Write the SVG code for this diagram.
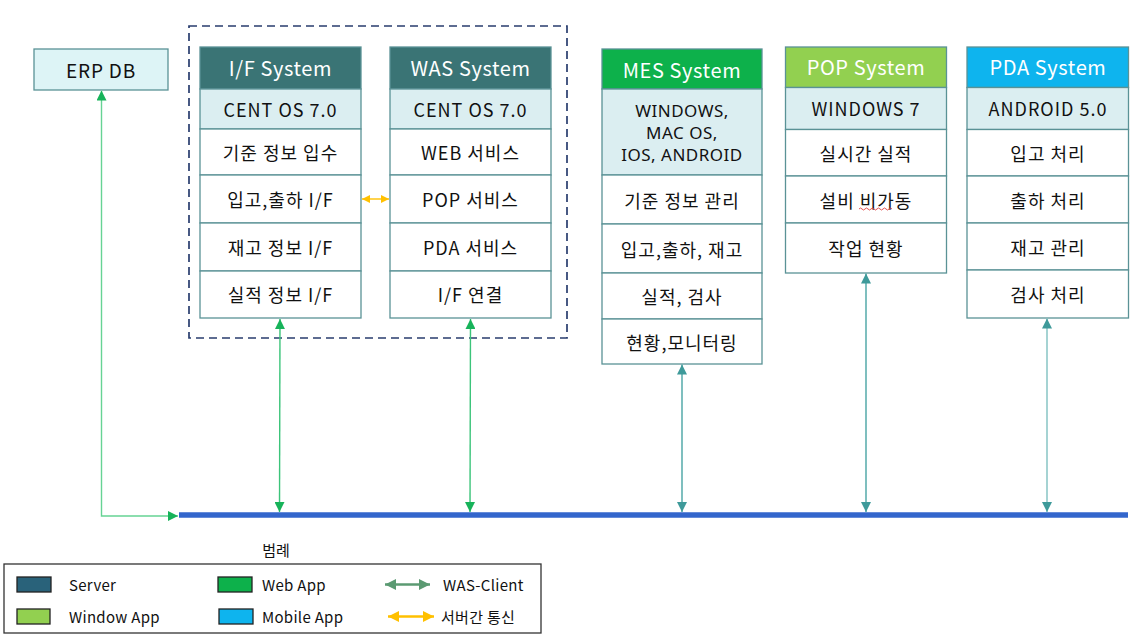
<svg xmlns="http://www.w3.org/2000/svg" width="1146" height="638" viewBox="0 0 1146 638">
<style>
text{font-family:"Noto Sans CJK KR","Noto Sans",sans-serif;text-anchor:middle;dominant-baseline:central;fill:#111}
.hd{font-size:20px;fill:#fff;letter-spacing:0.6px}
.r{font-size:18px;letter-spacing:1px}
.m{font-family:"Noto Sans",sans-serif;font-size:17px;letter-spacing:0.5px;dominant-baseline:auto}
.os{fill:#DBEEF1;stroke:#5A9296;stroke-width:1.3}
.cell{fill:#fff;stroke:#5A9296;stroke-width:1.3}
.lg{font-size:15px;text-anchor:start;letter-spacing:0.3px}
.sw{stroke:#222;stroke-width:1.3}
</style>
<defs>
<marker id="ag" viewBox="0 0 10 10" refX="10" refY="5" markerWidth="10" markerHeight="10" markerUnits="userSpaceOnUse" orient="auto-start-reverse"><path d="M0,0 L10,5 L0,10 z" fill="#17B35A"/></marker>
<marker id="at" viewBox="0 0 10 10" refX="10" refY="5" markerWidth="10" markerHeight="10" markerUnits="userSpaceOnUse" orient="auto-start-reverse"><path d="M0,0 L10,5 L0,10 z" fill="#3E9A9A"/></marker>
<marker id="ay" viewBox="0 0 10 10" refX="10" refY="5" markerWidth="8" markerHeight="8" markerUnits="userSpaceOnUse" orient="auto-start-reverse"><path d="M0,0 L10,5 L0,10 z" fill="#FFC000"/></marker>
<marker id="lgg" viewBox="0 0 10 10" refX="10" refY="5" markerWidth="11" markerHeight="11" markerUnits="userSpaceOnUse" orient="auto-start-reverse"><path d="M0,0 L10,5 L0,10 z" fill="#5B9A72"/></marker>
<marker id="lgy" viewBox="0 0 10 10" refX="10" refY="5" markerWidth="11" markerHeight="11" markerUnits="userSpaceOnUse" orient="auto-start-reverse"><path d="M0,0 L10,5 L0,10 z" fill="#FFC000"/></marker>
</defs>

<rect x="189" y="26" width="378" height="312" fill="none" stroke="#283D6E" stroke-width="1.7" stroke-dasharray="8,5"/>

<g id="erp">
<rect x="34" y="49" width="134" height="41" fill="#DDF4F6" stroke="#5A9296" stroke-width="1.3"/>
<text x="101" y="69" style="font-size:19px;letter-spacing:0.8px">ERP DB</text>
</g>

<g id="if-system">
<rect x="200" y="47" width="161" height="42" fill="#3A7475" stroke="#5A9296" stroke-width="1.3"/>
<text class="hd" x="280.5" y="67">I/F System</text>
<rect class="os" x="200" y="89" width="161" height="40"/>
<text class="r" x="280.5" y="108.5">CENT OS 7.0</text>
<rect class="cell" x="200" y="129" width="161" height="46"/>
<text class="r" x="280.5" y="151.5">기준 정보 입수</text>
<rect class="cell" x="200" y="175" width="161" height="48"/>
<text class="r" x="280.5" y="198.5">입고,출하 I/F</text>
<rect class="cell" x="200" y="223" width="161" height="48"/>
<text class="r" x="280.5" y="246.5">재고 정보 I/F</text>
<rect class="cell" x="200" y="271" width="161" height="47"/>
<text class="r" x="280.5" y="294">실적 정보 I/F</text>
</g>

<g id="was-system">
<rect x="390" y="47" width="161" height="42" fill="#3A7475" stroke="#5A9296" stroke-width="1.3"/>
<text class="hd" x="470.5" y="67">WAS System</text>
<rect class="os" x="390" y="89" width="161" height="40"/>
<text class="r" x="470.5" y="108.5">CENT OS 7.0</text>
<rect class="cell" x="390" y="129" width="161" height="46"/>
<text class="r" x="470.5" y="151.5">WEB 서비스</text>
<rect class="cell" x="390" y="175" width="161" height="48"/>
<text class="r" x="470.5" y="198.5">POP 서비스</text>
<rect class="cell" x="390" y="223" width="161" height="48"/>
<text class="r" x="470.5" y="246.5">PDA 서비스</text>
<rect class="cell" x="390" y="271" width="161" height="47"/>
<text class="r" x="470.5" y="294">I/F 연결</text>
</g>

<g id="mes-system">
<rect x="602" y="49" width="160" height="40" fill="#0DB14B" stroke="#5A9296" stroke-width="1.3"/>
<text class="hd" x="682" y="69">MES System</text>
<rect class="os" x="602" y="89" width="160" height="86"/>
<text class="m" x="682" y="116.5"><tspan x="682">WINDOWS,</tspan><tspan x="682" dy="22">MAC OS,</tspan><tspan x="682" dy="22">IOS, ANDROID</tspan></text>
<rect class="cell" x="602" y="175" width="160" height="49"/>
<text class="r" x="682" y="199.5">기준 정보 관리</text>
<rect class="cell" x="602" y="224" width="160" height="49"/>
<text class="r" x="682" y="248.5">입고,출하, 재고</text>
<rect class="cell" x="602" y="273" width="160" height="46"/>
<text class="r" x="682" y="295.5">실적, 검사</text>
<rect class="cell" x="602" y="319" width="160" height="45"/>
<text class="r" x="682" y="341.5">현황,모니터링</text>
</g>

<g id="pop-system">
<rect x="785.5" y="47" width="161" height="40.5" fill="#92D050" stroke="#5A9296" stroke-width="1.3"/>
<text class="hd" x="866" y="66.5">POP System</text>
<rect class="os" x="785.5" y="87.5" width="161" height="42"/>
<text class="r" x="866" y="108">WINDOWS 7</text>
<rect class="cell" x="785.5" y="129.5" width="161" height="46.5"/>
<text class="r" x="866" y="152.5">실시간 실적</text>
<rect class="cell" x="785.5" y="176" width="161" height="47"/>
<text class="r" x="866" y="199.5">설비 비가동</text>
<path d="M859,209 q1.5,-2 3,0 t3,0 t3,0 t3,0 t3,0 t3,0 t3,0 t3,0 t3,0 t3,0 t3,0" fill="none" stroke="#E04040" stroke-width="0.9"/>
<rect class="cell" x="785.5" y="223" width="161" height="50"/>
<text class="r" x="866" y="247.5">작업 현황</text>
</g>

<g id="pda-system">
<rect x="967" y="47" width="161.5" height="40.5" fill="#0EB4EE" stroke="#5A9296" stroke-width="1.3"/>
<text class="hd" x="1048" y="66.5">PDA System</text>
<rect class="os" x="967" y="87.5" width="161.5" height="42"/>
<text class="r" x="1048" y="108">ANDROID 5.0</text>
<rect class="cell" x="967" y="129.5" width="161.5" height="46.5"/>
<text class="r" x="1048" y="152.5">입고 처리</text>
<rect class="cell" x="967" y="176" width="161.5" height="47"/>
<text class="r" x="1048" y="199.5">출하 처리</text>
<rect class="cell" x="967" y="223" width="161.5" height="47"/>
<text class="r" x="1048" y="246.5">재고 관리</text>
<rect class="cell" x="967" y="270" width="161.5" height="48"/>
<text class="r" x="1048" y="293.5">검사 처리</text>
</g>

<g id="connectors">
<line x1="179" y1="515" x2="1128" y2="515" stroke="#3366CC" stroke-width="5.5"/>
<path d="M101.5,90.5 V516 H178" fill="none" stroke="#66D394" stroke-width="1.4" marker-start="url(#ag)" marker-end="url(#ag)"/>
<line x1="280" y1="319" x2="279.5" y2="512" stroke="#3CC47A" stroke-width="1.4" marker-start="url(#ag)" marker-end="url(#ag)"/>
<line x1="470.5" y1="319" x2="470" y2="512" stroke="#3CC47A" stroke-width="1.4" marker-start="url(#ag)" marker-end="url(#ag)"/>
<line x1="682" y1="364.5" x2="682" y2="512" stroke="#48A4A4" stroke-width="1.4" marker-start="url(#at)" marker-end="url(#at)"/>
<line x1="866" y1="273.5" x2="866" y2="512" stroke="#48A4A4" stroke-width="1.4" marker-start="url(#at)" marker-end="url(#at)"/>
<line x1="1047" y1="318.5" x2="1047" y2="512" stroke="#7FC0C0" stroke-width="1.4" marker-start="url(#at)" marker-end="url(#at)"/>
<line x1="362" y1="199" x2="389" y2="199" stroke="#FFC000" stroke-width="1.4" marker-start="url(#ay)" marker-end="url(#ay)"/>
</g>

<g id="legend">
<text x="276" y="549" style="font-size:15px">범례</text>
<rect x="4" y="564" width="537" height="69" fill="#fff" stroke="#333" stroke-width="1.3"/>
<rect class="sw" x="17" y="577" width="34" height="15" fill="#29627A"/>
<text class="lg" x="69" y="584">Server</text>
<rect class="sw" x="218" y="577" width="34" height="15" fill="#0DB14B"/>
<text class="lg" x="262" y="584">Web App</text>
<line x1="385" y1="584.5" x2="430" y2="584.5" stroke="#5B9A72" stroke-width="2.5" marker-start="url(#lgg)" marker-end="url(#lgg)"/>
<text class="lg" x="443" y="584">WAS-Client</text>
<rect class="sw" x="17" y="609" width="33" height="15" fill="#92D050"/>
<text class="lg" x="69" y="616">Window App</text>
<rect class="sw" x="219" y="609" width="34" height="15" fill="#0EB4EE"/>
<text class="lg" x="262" y="616">Mobile App</text>
<line x1="388" y1="616.5" x2="434" y2="616.5" stroke="#FFC000" stroke-width="2.5" marker-start="url(#lgy)" marker-end="url(#lgy)"/>
<text class="lg" x="441" y="616">서버간 통신</text>
</g>
</svg>
